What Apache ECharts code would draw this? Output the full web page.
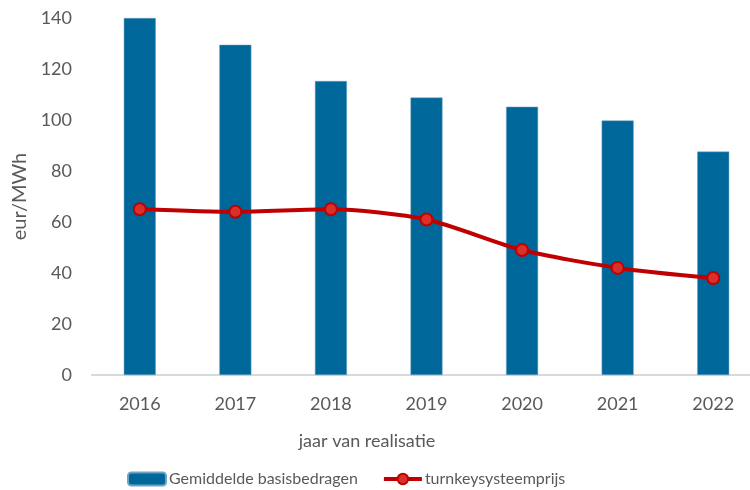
<!DOCTYPE html>
<html>
<head>
<meta charset="utf-8">
<script src="https://cdn.jsdelivr.net/npm/echarts@6/dist/echarts.min.js"></script>
<style>
  html, body { margin: 0; padding: 0; background: #fff; }
  #main { width: 750px; height: 490px; }
</style>
</head>
<body>
<div id="main"></div>
<script>
const years = ['2016', '2017', '2018', '2019', '2020', '2021', '2022'];
const basisbedragen = [140, 129.5, 115.3, 108.8, 105.2, 99.8, 87.6];
const turnkeyPrijs = [65, 64, 65, 61, 49, 42, 38];

const txt = '#595959';
const font = 'Lato';

const chart = echarts.init(document.getElementById('main'));

const option = {
  backgroundColor: '#fff',
  animation: false,
  textStyle: { fontFamily: font },
  title: {
    text: 'jaar van realisatie',
    left: 362,
    top: 427,
    textAlign: 'center',
    textStyle: { color: txt, fontSize: 18, fontWeight: 'normal', fontFamily: font }
  },
  legend: {
    left: 122,
    top: 466,
    itemWidth: 38,
    itemHeight: 13,
    itemGap: 24,
    textStyle: { color: txt, fontSize: 16, fontFamily: font, padding: [0, 0, 0, -2] },
    data: [
      { name: 'Gemiddelde basisbedragen' },
      { name: 'turnkeysysteemprijs', lineStyle: { width: 4, color: '#C00000' } }
    ]
  },
  grid: {
    left: 92,
    top: 18,
    width: 669,
    height: 357,
    outerBoundsMode: 'none'
  },
  xAxis: {
    type: 'category',
    data: years,
    axisLine: { lineStyle: { color: '#D9D9D9', width: 2 } },
    axisTick: { show: false },
    axisLabel: { color: txt, fontSize: 18, margin: 20, fontFamily: font }
  },
  yAxis: {
    type: 'value',
    min: 0,
    max: 140,
    interval: 20,
    name: 'eur/MWh',
    nameLocation: 'middle',
    nameGap: 60,
    nameTextStyle: { color: txt, fontSize: 20, fontFamily: font },
    axisLine: { show: false },
    axisTick: { show: false },
    splitLine: { show: false },
    axisLabel: { color: txt, fontSize: 18, margin: 20, fontFamily: font }
  },
  series: [
    {
      name: 'Gemiddelde basisbedragen',
      type: 'bar',
      data: basisbedragen,
      barWidth: 32,
      itemStyle: { color: '#00679A', borderColor: '#6FA3C4', borderWidth: 0.5 }
    },
    {
      name: 'turnkeysysteemprijs',
      type: 'line',
      data: turnkeyPrijs,
      smooth: 0.25,
      symbol: 'circle',
      symbolSize: 12,
      lineStyle: { color: '#C00000', width: 4 },
      itemStyle: { color: '#D9302A', borderColor: '#C00000', borderWidth: 2 }
    }
  ]
};

chart.setOption(option);
</script>
</body>
</html>
